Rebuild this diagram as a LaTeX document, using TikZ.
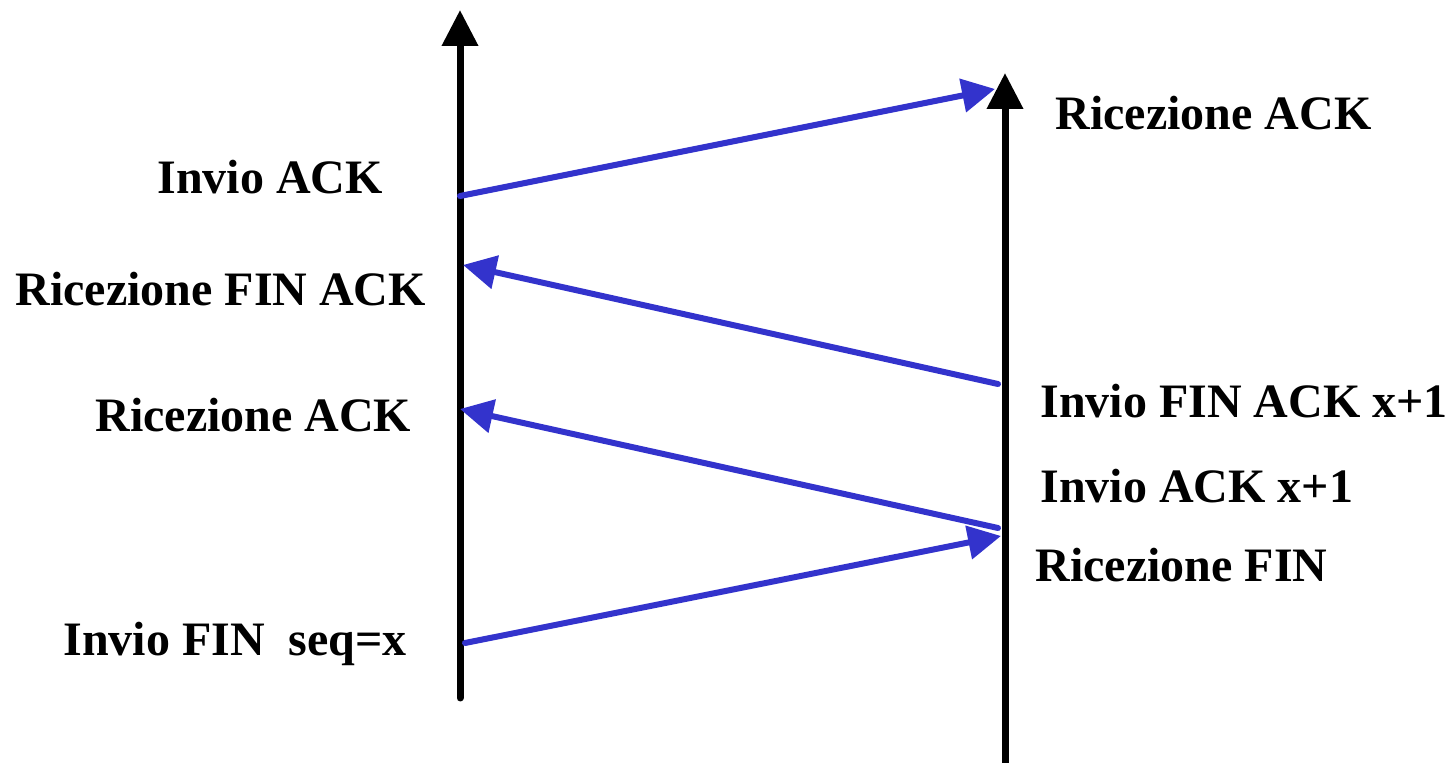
\documentclass[tikz,border=0pt]{standalone}
\usepackage{fontspec}
\setmainfont{Liberation Serif}
\usetikzlibrary{arrows.meta}
\definecolor{msgblue}{RGB}{51,51,204}
\begin{document}
\begin{tikzpicture}[x=0.5pt,y=-0.5pt,
  timeline/.style={line width=3.5pt, line cap=round, -{Triangle[length=18pt,width=17.5pt]}},
  msg/.style={draw=msgblue, line width=3pt, line cap=round, -{Triangle[length=16.5pt,width=16.5pt]}, msgblue},
  lbl/.style={anchor=base west, inner sep=0pt, font=\fontsize{24pt}{28pt}\selectfont\bfseries}]
\useasboundingbox (0,0) rectangle (1451,763);
% timelines
\coordinate (Lbot) at (460,698);
\coordinate (Ltop) at (460,10);
\coordinate (Rbot) at (1005,770);
\coordinate (Rtop) at (1005,73);
\draw[timeline] (Lbot) -- (Ltop);
\draw[timeline, line cap=butt] (Rbot) -- (Rtop);
% message endpoints
\coordinate (a1) at (460,196);
\coordinate (a2) at (995,89);
\coordinate (b1) at (998,384);
\coordinate (b2) at (463,265);
\coordinate (c1) at (998,528);
\coordinate (c2) at (460,409);
\coordinate (d1) at (465,643);
\coordinate (d2) at (1001,536);
\draw[msg] (a1) -- (a2);
\draw[msg] (b1) -- (b2);
\draw[msg] (c1) -- (c2);
\draw[msg] (d1) -- (d2);
% labels
\node[lbl] (l1) at (157,194) {Invio ACK};
\node[lbl] (l2) at (15,306) {Ricezione FIN ACK};
\node[lbl] (l3) at (95,432) {Ricezione ACK};
\node[lbl] (l4) at (63,656) {Invio FIN\ \ seq=x};
\node[lbl] (r1) at (1055,130) {Ricezione ACK};
\node[lbl] (r2) at (1040,418) {Invio FIN ACK x+1};
\node[lbl] (r3) at (1040,503) {Invio ACK x+1};
\node[lbl] (r4) at (1035,582) {Ricezione FIN};
\end{tikzpicture}
\end{document}
